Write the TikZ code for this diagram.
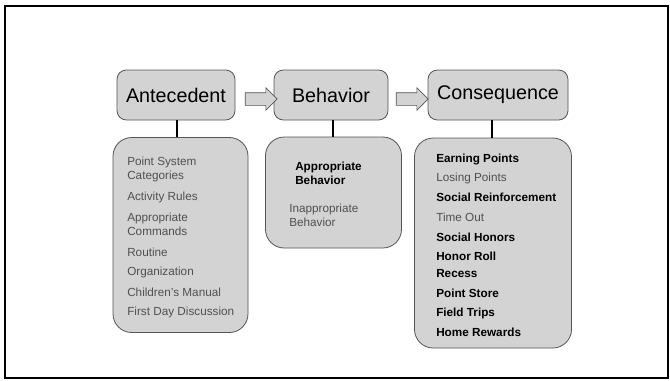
\documentclass[tikz,border=0pt]{standalone}
\usepackage{fontspec}
\setmainfont{Liberation Sans}
\usepackage{tikz}
\usetikzlibrary{shapes.arrows,positioning}

\definecolor{boxgray}{RGB}{211,211,211}
\definecolor{linegray}{RGB}{85,85,85}
\definecolor{softtext}{RGB}{80,80,80}

\tikzset{
  headbox/.style={draw=linegray, fill=boxgray, rounded corners=7, line width=0.6pt,
    minimum height=37.5pt, inner sep=0pt, font=\fontsize{14.8}{16}\selectfont},
  listbox/.style={draw=linegray, fill=boxgray, rounded corners=14, line width=0.6pt,
    inner sep=0pt},
  flowarrow/.style={draw=linegray, fill=boxgray, single arrow, line width=0.5pt,
    minimum height=24pt, inner xsep=0pt, inner ysep=4.5pt,
    single arrow head extend=3.75pt},
  stem/.style={line width=1.5pt},
  item/.style={font=\fontsize{8.8}{10.5}\selectfont, anchor=west, inner sep=0pt,
    align=left},
  soft/.style={item, text=softtext},
  strong/.style={item, font=\fontsize{8.8}{10.5}\selectfont\bfseries}
}

\begin{document}
\begin{tikzpicture}[x=0.75pt,y=0.75pt,yscale=-1,xscale=1]
\useasboundingbox (0,0) rectangle (670,380);

%Frame
\draw [line width=1.5pt] (5,6) rectangle (668,378);

%Top boxes
\node [headbox, minimum width=88.5pt] (ante) at (176,95) {Antecedent};
\node [headbox, minimum width=85.5pt] (beha) at (331,95) {Behavior};
\node [headbox, minimum width=105pt] (cons) at (498,95) {Consequence};

%Arrows
\node [flowarrow] (arr1) at (258,99) {};
\node [flowarrow] (arr2) at (409,99) {};

%List boxes
\node [listbox, minimum width=101.25pt, minimum height=146.25pt] (antelist) at (180.5,235) {};
\node [listbox, minimum width=102pt, minimum height=83.25pt] (behalist) at (333.5,192.5) {};
\node [listbox, minimum width=117.75pt, minimum height=157.5pt] (conslist) at (493,243) {};

%Stems
\draw [stem] (ante.south -| 177,0) -- (antelist.north -| 177,0);
\draw [stem] (beha.south -| 333,0) -- (behalist.north -| 333,0);
\draw [stem] (cons.south -| 492,0) -- (conslist.north -| 492,0);

% Antecedent items
\node [soft] (a1) at (127,169) {Point System\\Categories};
\node [soft] (a2) at (127,197) {Activity Rules};
\node [soft] (a3) at (127,224) {Appropriate\\Commands};
\node [soft] (a4) at (127,252) {Routine};
\node [soft] (a5) at (127,272) {Organization};
\node [soft] (a6) at (127,292) {Children’s Manual};
\node [soft] (a7) at (127,312) {First Day Discussion};

% Behavior items
\node [strong] (b1) at (295,173) {Appropriate\\Behavior};
\node [soft] (b2) at (289,215.5) {Inappropriate\\Behavior};

% Consequence items
\node [strong] (c1) at (436,159) {Earning Points};
\node [soft] (c2) at (436,178) {Losing Points};
\node [strong] (c3) at (436,197) {Social Reinforcement};
\node [soft] (c4) at (436,217) {Time Out};
\node [strong] (c5) at (436,237) {Social Honors};
\node [strong] (c6) at (436,256) {Honor Roll};
\node [strong] (c7) at (436,274) {Recess};
\node [strong] (c8) at (436,293) {Point Store};
\node [strong] (c9) at (436,313) {Field Trips};
\node [strong] (c10) at (436,332) {Home Rewards};

\end{tikzpicture}
\end{document}
